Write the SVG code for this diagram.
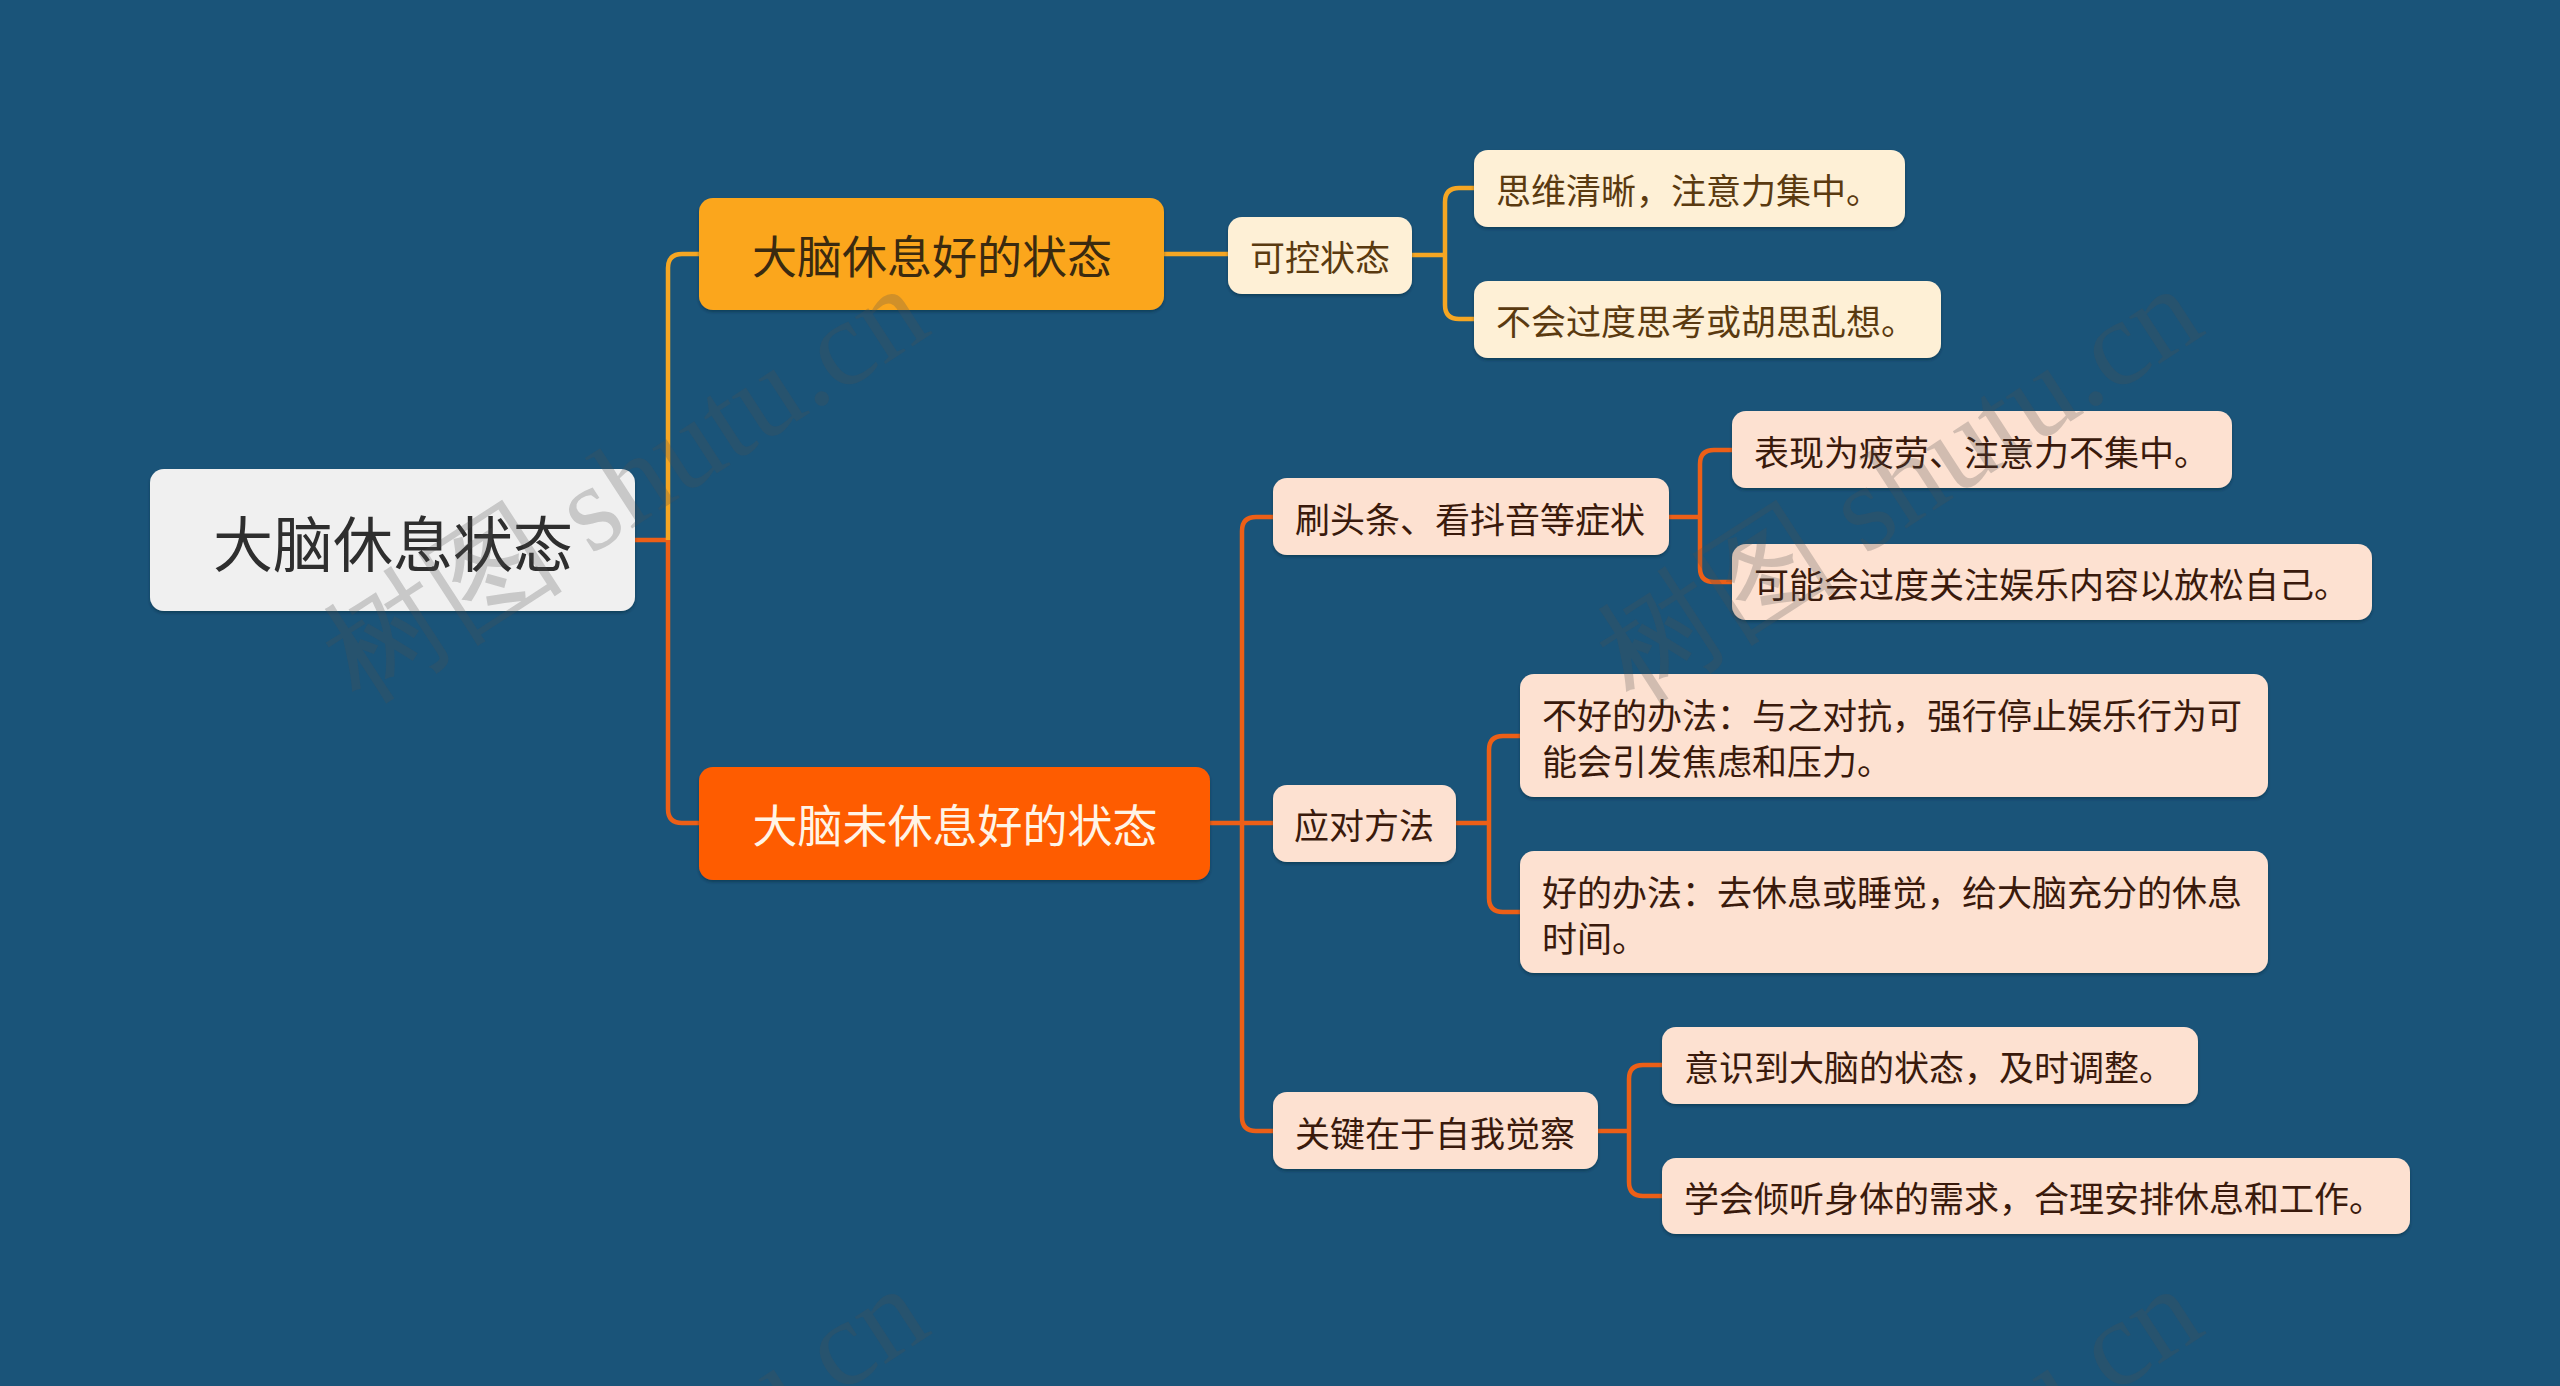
<svg xmlns="http://www.w3.org/2000/svg" width="2560" height="1386" viewBox="0 0 2560 1386">
<defs>
<filter id="sh" x="-5%" y="-10%" width="110%" height="130%">
<feDropShadow dx="0" dy="2" stdDeviation="1.5" flood-color="#0a2030" flood-opacity="0.45"/>
</filter>
</defs>
<style>
text{font-family:"Noto Sans CJK SC","Noto Sans",sans-serif;dominant-baseline:central}
.root rect{fill:#f0f0f0}
.root text{font-size:60px;fill:#2e2e2e;text-anchor:middle}
.l1a rect{fill:#fba61d}
.l1a text{font-size:45px;fill:#3a2a10;text-anchor:middle}
.l1b rect{fill:#fe5c03}
.l1b text{font-size:45px;fill:#fff4e6;text-anchor:middle}
.ca rect{fill:#fef0d6}
.ca text{font-size:35px;fill:#5a3a10}
.cb rect{fill:#fde1d1}
.cb text{font-size:35px;fill:#3a1a0c}
.cc{text-anchor:middle}
.lnA{fill:none;stroke:#f5a623;stroke-width:4.5}
.lnB{fill:none;stroke:#ec5f17;stroke-width:4.5}
.wm{font-family:"Liberation Serif",serif;font-size:122px;fill:#505050;fill-opacity:0.25;dominant-baseline:auto}
</style>
<rect x="0" y="0" width="2560" height="1386" fill="#1a5479"/>
<g id="connectors">
<path class="lnB" d="M635 540 H668"/>
<path class="lnA" d="M668 540 V268 Q668 254 682 254 H701"/>
<path class="lnB" d="M668 540 V809 Q668 823 682 823 H701"/>
<path class="lnA" d="M1164 254 H1229"/>
<path class="lnA" d="M1412 255 H1445"/>
<path class="lnA" d="M1445 255 V202 Q1445 188 1459 188 H1476"/>
<path class="lnA" d="M1445 255 V305 Q1445 319 1459 319 H1476"/>
<path class="lnB" d="M1210 823 H1274"/>
<path class="lnB" d="M1242 823 V531 Q1242 517 1256 517 H1274"/>
<path class="lnB" d="M1242 823 V1117 Q1242 1131 1256 1131 H1274"/>
<path class="lnB" d="M1669 517 H1700"/>
<path class="lnB" d="M1700 517 V464 Q1700 450 1714 450 H1733"/>
<path class="lnB" d="M1700 517 V568 Q1700 582 1714 582 H1733"/>
<path class="lnB" d="M1456 823 H1489"/>
<path class="lnB" d="M1489 823 V750 Q1489 736 1503 736 H1521"/>
<path class="lnB" d="M1489 823 V898 Q1489 912 1503 912 H1521"/>
<path class="lnB" d="M1598 1131 H1629"/>
<path class="lnB" d="M1629 1131 V1079 Q1629 1065 1643 1065 H1663"/>
<path class="lnB" d="M1629 1131 V1182 Q1629 1196 1643 1196 H1663"/>
</g>
<g id="root" class="root"><rect x="150" y="469" width="485" height="142" rx="14" filter="url(#sh)"/><text x="393" y="540">大脑休息状态</text></g>
<g id="n1" class="l1a"><rect x="699" y="198" width="465" height="112" rx="14" filter="url(#sh)"/><text x="932" y="254">大脑休息好的状态</text></g>
<g id="n2" class="l1b"><rect x="699" y="767" width="511" height="113" rx="14" filter="url(#sh)"/><text x="955" y="823">大脑未休息好的状态</text></g>
<g id="n1a" class="ca"><rect x="1228" y="217" width="184" height="77" rx="14" filter="url(#sh)"/><text class="cc" x="1320" y="255">可控状态</text></g>
<g id="n1a1" class="ca"><rect x="1474" y="150" width="431" height="77" rx="14" filter="url(#sh)"/><text x="1496" y="188">思维清晰，注意力集中。</text></g>
<g id="n1a2" class="ca"><rect x="1474" y="281" width="467" height="77" rx="14" filter="url(#sh)"/><text x="1496" y="319">不会过度思考或胡思乱想。</text></g>
<g id="n2a" class="cb"><rect x="1273" y="478" width="396" height="77" rx="14" filter="url(#sh)"/><text x="1295" y="517">刷头条、看抖音等症状</text></g>
<g id="n2a1" class="cb"><rect x="1732" y="411" width="500" height="77" rx="14" filter="url(#sh)"/><text x="1754" y="450">表现为疲劳、注意力不集中。</text></g>
<g id="n2a2" class="cb"><rect x="1732" y="544" width="640" height="76" rx="14" filter="url(#sh)"/><text x="1754" y="582">可能会过度关注娱乐内容以放松自己。</text></g>
<g id="n2b" class="cb"><rect x="1273" y="785" width="183" height="77" rx="14" filter="url(#sh)"/><text class="cc" x="1364" y="823">应对方法</text></g>
<g id="n2b1" class="cb"><rect x="1520" y="674" width="748" height="123" rx="14" filter="url(#sh)"/><text x="1542" y="713">不好的办法：与之对抗，强行停止娱乐行为可</text><text x="1542" y="759">能会引发焦虑和压力。</text></g>
<g id="n2b2" class="cb"><rect x="1520" y="851" width="748" height="122" rx="14" filter="url(#sh)"/><text x="1542" y="890">好的办法：去休息或睡觉，给大脑充分的休息</text><text x="1542" y="936">时间。</text></g>
<g id="n2c" class="cb"><rect x="1273" y="1092" width="325" height="77" rx="14" filter="url(#sh)"/><text x="1295" y="1131">关键在于自我觉察</text></g>
<g id="n2c1" class="cb"><rect x="1662" y="1027" width="536" height="77" rx="14" filter="url(#sh)"/><text x="1684" y="1065">意识到大脑的状态，及时调整。</text></g>
<g id="n2c2" class="cb"><rect x="1662" y="1158" width="748" height="76" rx="14" filter="url(#sh)"/><text x="1684" y="1196">学会倾听身体的需求，合理安排休息和工作。</text></g>
<g id="watermark">
<text class="wm" transform="translate(360 705) rotate(-33)">树图 shutu.cn</text>
<text class="wm" transform="translate(1634 705) rotate(-33)">树图 shutu.cn</text>
<text class="wm" transform="translate(360 1705) rotate(-33)">树图 shutu.cn</text>
<text class="wm" transform="translate(1634 1705) rotate(-33)">树图 shutu.cn</text>
</g>
</svg>
